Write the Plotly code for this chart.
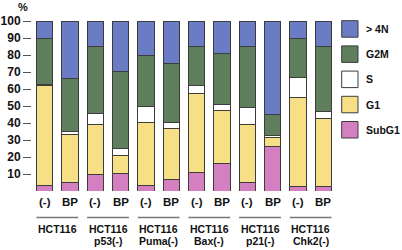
import plotly.graph_objects as go

conditions = ["(-)", "BP"] * 6
groups = [["HCT116"], ["HCT116", "p53(-)"], ["HCT116", "Puma(-)"],
          ["HCT116", "Bax(-)"], ["HCT116", "p21(-)"], ["HCT116", "Chk2(-)"]]
subg1 = [3.5, 5, 9.5, 10.5, 3, 6.5, 11, 16, 5, 26, 2.5, 2.5]
g1 = [58.5, 28, 29.5, 10.5, 37.5, 30, 46.5, 31.5, 34, 5.5, 52.5, 40]
s_phase = [0.8, 2, 6.5, 4, 9, 4, 4.5, 3.5, 10, 1, 12, 4]
g2m = [27.2, 31, 39.5, 45.5, 30.5, 34.5, 23, 30, 36, 12.5, 23, 38.5]
gt4n = [10, 34, 15, 29.5, 20, 25, 15, 19, 15, 55, 10, 15]
y_ticks = [10, 20, 30, 40, 50, 60, 70, 80, 90, 100]

series = [("SubG1", subg1, "#d47fc0"), ("G1", g1, "#f7df86"),
          ("S", s_phase, "#ffffff"), ("G2M", g2m, "#5f7e5c"),
          ("> 4N", gt4n, "#6a7dc4")]

FONT = "Liberation Sans, Arial, sans-serif"
x = list(range(len(conditions)))
BW = 0.65

fig = go.Figure()
for name, vals, col in series:
    fig.add_trace(go.Bar(x=x, y=vals, name=name, width=BW,
                         marker=dict(color=col, line=dict(color="#3d3d3d", width=1)),
                         showlegend=False))

# layout geometry in pixels
L, W, T, H = 32, 304, 21, 170
def px(p):
    return (p - L) / W
def py(p):
    return (T + H - p) / H

ann = []
for i, c in enumerate(conditions):
    ann.append(dict(x=i, y=py(202), xref="x", yref="paper", text="<b>%s</b>" % c,
                    showarrow=False, font=dict(size=11.5, color="#111"),
                    xanchor="center", yanchor="middle"))
shapes = []
for g, lines in enumerate(groups):
    shapes.append(dict(type="line", xref="x", yref="paper", x0=2 * g - BW / 2,
                       x1=2 * g + 1 + BW / 2, y0=py(217.5), y1=py(217.5),
                       line=dict(color="#777777", width=1.5), layer="above"))
    for k, t in enumerate(lines):
        ann.append(dict(x=2 * g + 0.5, y=py(228.5 + 12.7 * k), xref="x", yref="paper",
                        text="<b>%s</b>" % t, showarrow=False,
                        font=dict(size=10.5, color="#111"),
                        xanchor="center", yanchor="middle"))

# custom legend (top to bottom)
for k, (name, vals, col) in enumerate(reversed(series)):
    top = 20.7 + 25.2 * k
    shapes.append(dict(type="rect", xref="paper", yref="paper",
                       x0=px(341.7), x1=px(358), y0=py(top + 16.5), y1=py(top),
                       fillcolor=col, line=dict(color="#3d3d3d", width=1)))
    ann.append(dict(x=px(364), y=py(top + 8.2), xref="paper", yref="paper",
                    text="<b>%s</b>" % name, showarrow=False,
                    font=dict(size=10.5, color="#111"),
                    xanchor="left", yanchor="middle"))
ann.append(dict(x=px(22.5), y=py(7), xref="paper", yref="paper", text="<b>%</b>",
                showarrow=False, font=dict(size=11, color="#111"),
                xanchor="center", yanchor="middle"))

fig.update_layout(
    width=402, height=250, barmode="stack",
    margin=dict(l=L, r=402 - L - W, t=T, b=250 - T - H, pad=0, autoexpand=False),
    paper_bgcolor="white", plot_bgcolor="white",
    font=dict(family=FONT, color="#111"),
    annotations=ann, shapes=shapes,
    xaxis=dict(range=[-0.5, 11.5], showticklabels=False, showgrid=False,
               zeroline=False, showline=False, ticks="", automargin=False),
    yaxis=dict(range=[0, 100], tickvals=y_ticks,
               ticktext=["<b>%d</b>" % v for v in y_ticks],
               ticks="outside", ticklen=8, tickcolor="#555", tickwidth=1.2,
               showgrid=False, zeroline=False, showline=False, automargin=False,
               tickfont=dict(size=12, color="#111")),
)
fig.write_html("out.html", config={"displayModeBar": False},
               post_script="document.body.style.margin='0';document.body.style.overflow='hidden';")
